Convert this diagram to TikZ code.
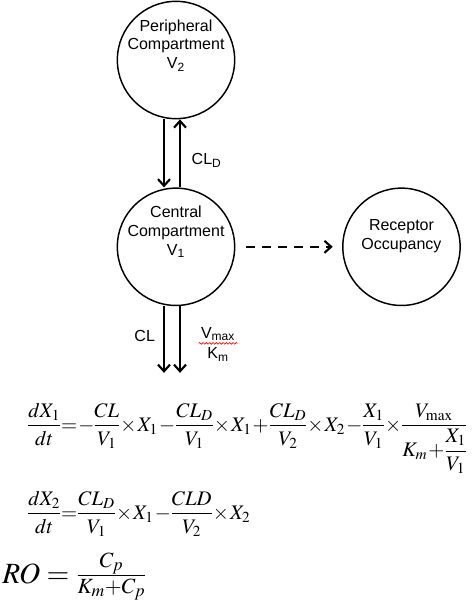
\documentclass[tikz,border=0pt]{standalone}
\usepackage{mathptmx}
\usepackage[no-math]{fontspec}
\setsansfont{Liberation Sans}
\usepackage{amsmath}
\usetikzlibrary{positioning}
\usetikzlibrary{arrows.meta}
\usetikzlibrary{decorations.pathmorphing}
\newcommand{\eqspacing}{\medmuskip=1mu\relax\thickmuskip=1mu\relax\nulldelimiterspace=0pt\relax}
\tikzset{
	compartment/.style={
		circle,
		draw,
		line width=1.1pt,
		minimum size=88pt,
		inner sep=0pt
	},
	caption/.style={
		font=\sffamily\fontsize{12}{14}\selectfont,
		align=center,
		inner sep=1pt
	},
	flow/.style={
		line width=1.6pt,
		-{Straight Barb[length=5pt,width=9pt,line width=1.6pt]}
	},
	equation/.style={
		anchor=base west,
		inner sep=0pt,
		font=\fontsize{15.5}{19}\selectfont\eqspacing
	}
}

\begin{document}
\begin{tikzpicture}[x=0.75pt,y=-0.75pt]
	\useasboundingbox (0,0) rectangle (474,614);
	
	\draw node[compartment, label={[caption,yshift=11pt]center:{Peripheral\\Compartment\\V\textsubscript{2}}}](Peripheral) at (176,60){};
	\draw node[compartment, below=51pt of Peripheral, label={[caption,yshift=11pt]center:{Central\\Compartment\\V\textsubscript{1}}}](Central){};
	\draw node[compartment, right=80pt of Central, label={[caption,yshift=8pt]center:{Receptor\\Occupancy}}](Receptor){};
	
	\draw [flow] ([xshift=-9pt]Peripheral.south) -- ([xshift=-9pt]Central.north);
	\draw [flow] ([xshift=3pt]Central.north) -- ([xshift=3pt]Peripheral.south) node[caption, pos=0.4, right=7pt]{CL\textsubscript{D}};
	\draw [flow, dash pattern=on 7pt off 5pt, shorten <=8pt, shorten >=7pt] (Central) -- (Receptor);
	
	% elimination
	\coordinate (ClOut) at ([xshift=-9pt,yshift=-50pt]Central.south);
	\coordinate (MmOut) at ([xshift=3pt,yshift=-50pt]Central.south);
	\draw [flow] ([xshift=-9pt]Central.south) -- (ClOut) node[caption, pos=0.45, left=5pt]{CL};
	\draw [flow] ([xshift=3pt]Central.south) -- (MmOut) node[caption, pos=0.42, right=14pt](Vmax){V\textsubscript{max}};
	\draw node[caption, below=2pt of Vmax](Km){K\textsubscript{m}};
	\draw [red, line width=0.5pt, decorate, decoration={snake, amplitude=0.6pt, segment length=2.5pt}] (Vmax.south west) -- (Vmax.south east);
	
	\draw node[equation](RateOne) at (28,431){$\displaystyle \frac{dX_1}{dt}=-\frac{CL}{V_1}\times X_1-\frac{CL_D}{V_1}\times X_1+\frac{CL_D}{V_2}\times X_2-\frac{X_1}{V_1}\times\frac{V_{\max}}{K_m+\dfrac{X_1}{V_1}}$};
	\draw node[equation](RateTwo) at (28,519){$\displaystyle \frac{dX_2}{dt}=\frac{CL_D}{V_1}\times X_1-\frac{CLD}{V_2}\times X_2$};
	\draw node[equation, font=\fontsize{22}{26}\selectfont](Occupancy) at (2,583){$RO=\frac{C_p}{K_m+C_p}$};
\end{tikzpicture}
\end{document}
